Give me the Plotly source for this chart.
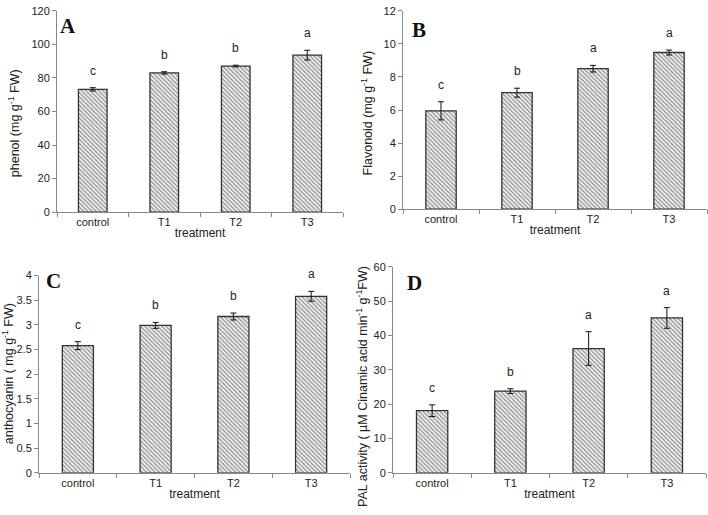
import plotly.graph_objects as go

categories = ["control", "T1", "T2", "T3"]

phenol = [73.2, 83.0, 87.1, 93.6]
phenol_err = [1.0, 0.7, 0.5, 2.9]
phenol_letters = ["c", "b", "b", "a"]

flavonoid = [5.95, 7.05, 8.5, 9.48]
flavonoid_err = [0.55, 0.27, 0.2, 0.15]
flavonoid_letters = ["c", "b", "a", "a"]

anthocyanin = [2.58, 2.99, 3.17, 3.58]
anthocyanin_err = [0.08, 0.06, 0.07, 0.1]
anthocyanin_letters = ["c", "b", "b", "a"]

pal = [18.1, 23.8, 36.2, 45.1]
pal_err = [1.7, 0.7, 4.9, 3.0]
pal_letters = ["c", "b", "a", "a"]

W, H = 708, 515
FONT = "Liberation Sans"
TXT = "#222222"

panels = [
    (phenol, phenol_err, phenol_letters, [0, 120], 20,
     "phenol (mg g<sup>-1</sup> FW)", "A", (57, 343), (5, 211), 14, 120, (68, 20)),
    (flavonoid, flavonoid_err, flavonoid_letters, [0, 12], 2,
     "Flavonoid (mg g<sup>-1</sup> FW)", "B", (403, 707), (5, 208), 367, 110, (419, 25)),
    (anthocyanin, anthocyanin_err, anthocyanin_letters, [0, 4], 0.5,
     "anthocyanin ( mg g<sup>-1</sup> FW)", "C", (39, 350), (276, 478), 8, 377, (53, 282)),
    (pal, pal_err, pal_letters, [0, 60], 10,
     "PAL activity ( µM Cinamic acid min<sup>-1</sup> g<sup>-1</sup>FW)", "D", (393, 706), (267, 478), 362, 390, (414, 284)),
]

fig = go.Figure()
annotations = []

for i, (vals, errs, letters, yr, dt, ytitle, lab, xd, yd, ytx, yty, lpos) in enumerate(panels):
    n = i + 1
    xa = "x" if n == 1 else f"x{n}"
    ya = "y" if n == 1 else f"y{n}"
    fig.add_trace(go.Bar(
        x=categories, y=vals,
        error_y=dict(type="data", array=errs, color="#111111", thickness=1, width=3),
        marker=dict(color="white", line=dict(color="#333333", width=1.3),
                    pattern=dict(shape="\\", size=3, solidity=0.55, fgcolor="#3a3a3a", bgcolor="white")),
        width=0.4, xaxis=xa, yaxis=ya, showlegend=False,
    ))
    xkey = "xaxis" if n == 1 else f"xaxis{n}"
    ykey = "yaxis" if n == 1 else f"yaxis{n}"
    fig.layout[xkey] = dict(
        domain=[xd[0] / W, xd[1] / W], anchor=ya, range=[-0.5, 3.5],
        showline=True, linecolor="#888888", linewidth=1, ticks="outside", tickson="boundaries",
        ticklen=4, tickcolor="#888888", showgrid=False,
        tickfont=dict(family=FONT, size=11, color=TXT),
        title=dict(text="treatment", font=dict(family=FONT, size=12, color=TXT), standoff=1),
    )
    fig.layout[ykey] = dict(
        domain=[1 - yd[1] / H, 1 - yd[0] / H], anchor=xa, range=yr, dtick=dt,
        showline=True, linecolor="#888888", linewidth=1, ticks="outside", ticklen=4, tickcolor="#888888",
        showgrid=False, zeroline=False,
        tickfont=dict(family=FONT, size=11, color=TXT),
    )
    for c, v, e, l in zip(categories, vals, errs, letters):
        annotations.append(dict(x=c, y=v + e, xref=xa, yref=ya, text=l, showarrow=False,
                                yanchor="bottom", yshift=8,
                                font=dict(family=FONT, size=12, color=TXT)))
    annotations.append(dict(x=ytx / W, y=1 - yty / H, xref="paper", yref="paper",
                            xanchor="center", yanchor="middle",
                            text=ytitle, textangle=-90, showarrow=False,
                            font=dict(family=FONT, size=12.5, color=TXT)))
    annotations.append(dict(x=lpos[0] / W, y=1 - lpos[1] / H, xref="paper", yref="paper",
                            xanchor="center", yanchor="middle",
                            text=f"<b>{lab}</b>", showarrow=False,
                            font=dict(family="Liberation Serif", size=21, color="#111111")))

fig.update_layout(
    width=W, height=H, margin=dict(l=0, r=0, t=0, b=0),
    paper_bgcolor="white", plot_bgcolor="white",
    annotations=annotations, bargap=0.6,
)

fig.write_html("out.html", config={"displayModeBar": False},
               post_script="document.body.style.margin='0';document.body.style.overflow='hidden';")
